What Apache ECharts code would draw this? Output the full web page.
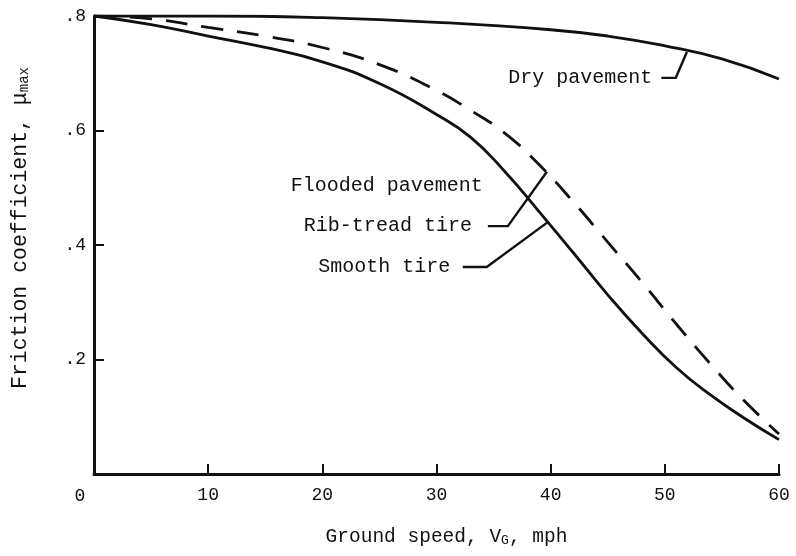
<!DOCTYPE html>
<html>
<head>
<meta charset="utf-8">
<script src="https://cdn.jsdelivr.net/npm/echarts@6/dist/echarts.min.js"></script>
<style>
  html, body { margin: 0; padding: 0; background: #fff; }
  #chart { width: 796px; height: 556px; }
</style>
</head>
<body>
<div id="chart"></div>
<script>
// Ground speed (mph) and maximum friction coefficient for each condition
const drySpeed = [0, 10, 20, 30, 40, 45, 50, 55, 60];
const dryMu    = [0.800, 0.800, 0.797, 0.789, 0.776, 0.765, 0.748, 0.725, 0.690];

const ribSpeed = [0, 5, 10, 15, 20, 25, 30, 33, 36, 39, 42, 45, 48, 51, 54, 57, 60];
const ribMu    = [0.800, 0.795, 0.780, 0.765, 0.745, 0.715, 0.670, 0.635, 0.595, 0.540, 0.475, 0.405, 0.335, 0.262, 0.192, 0.127, 0.070];

const smoothSpeed = [0, 5, 10, 15, 20, 25, 30, 33, 36, 39, 42, 45, 48, 51, 54, 57, 60];
const smoothMu    = [0.800, 0.785, 0.765, 0.745, 0.720, 0.682, 0.628, 0.588, 0.528, 0.458, 0.386, 0.313, 0.246, 0.186, 0.138, 0.097, 0.060];

const xTicks = [0, 10, 20, 30, 40, 50, 60];
const yTicks = [0, 0.2, 0.4, 0.6, 0.8];

const FONT = '"Liberation Mono", "DejaVu Sans Mono", monospace';
const INK = '#111';

const pairs = (xs, ys) => xs.map((x, i) => [x, ys[i]]);

const chart = echarts.init(document.getElementById('chart'), null, { renderer: 'canvas' });

chart.setOption({
  animation: false,
  backgroundColor: '#fff',
  grid: { left: 94, right: 17, top: 16, bottom: 82, containLabel: false },
  xAxis: {
    type: 'value', min: xTicks[0], max: xTicks[xTicks.length - 1], interval: 10,
    axisLine: { lineStyle: { color: INK, width: 3 } },
    axisTick: { inside: true, length: 10, lineStyle: { color: INK, width: 2 } },
    axisLabel: {
      margin: 12, color: INK, fontFamily: FONT, fontSize: 18,
      formatter: v => (v === 0 ? '' : String(v))
    },
    splitLine: { show: false }
  },
  yAxis: {
    type: 'value', min: yTicks[0], max: yTicks[yTicks.length - 1], interval: 0.2,
    axisLine: { show: true, lineStyle: { color: INK, width: 3 } },
    axisTick: { show: true, inside: true, length: 10, lineStyle: { color: INK, width: 2 } },
    axisLabel: {
      margin: 8, color: INK, fontFamily: FONT, fontSize: 18,
      formatter: v => (v === 0 ? '' : '.' + Math.round(v * 10))
    },
    splitLine: { show: false }
  },
  series: [
    {
      name: 'Dry pavement', type: 'line', smooth: 0.5, symbol: 'none',
      data: pairs(drySpeed, dryMu),
      lineStyle: { color: INK, width: 2.8 }
    },
    {
      name: 'Rib-tread tire', type: 'line', smooth: 0.5, symbol: 'none',
      data: pairs(ribSpeed, ribMu),
      lineStyle: { color: INK, width: 2.8, type: [22, 14] }
    },
    {
      name: 'Smooth tire', type: 'line', smooth: 0.5, symbol: 'none',
      data: pairs(smoothSpeed, smoothMu),
      lineStyle: { color: INK, width: 2.8 }
    }
  ]
});

// Leader lines and callout labels, placed in data coordinates
const px = (s, m) => chart.convertToPixel({ gridIndex: 0 }, [s, m]);

const leaders = [
  [[49.7, 0.692], [50.96, 0.692], [51.93, 0.737]],
  [[34.5, 0.433], [36.25, 0.433], [39.67, 0.528]],
  [[32.3, 0.3616], [34.4, 0.3616], [39.75, 0.440]]
];

const callouts = [
  { text: 'Dry pavement', at: [48.9, 0.692] },
  { text: 'Flooded pavement', at: [34.05, 0.503] },
  { text: 'Rib-tread tire', at: [33.1, 0.433] },
  { text: 'Smooth tire', at: [31.2, 0.3616] }
];

const graphics = [];
leaders.forEach(pts => {
  graphics.push({
    type: 'polyline',
    shape: { points: pts.map(p => px(p[0], p[1])) },
    style: { stroke: INK, lineWidth: 2.4, fill: null }
  });
});
callouts.forEach(c => {
  const p = px(c.at[0], c.at[1]);
  graphics.push({
    type: 'text', x: p[0], y: p[1],
    style: { text: c.text, fill: INK, font: '20px ' + FONT, align: 'right', verticalAlign: 'middle' }
  });
});

// "0" at the axis origin sits below-left of the corner
const o = px(0, 0);
graphics.push({
  type: 'text', x: o[0] - 14, y: o[1] + 22,
  style: { text: '0', fill: INK, font: '18px ' + FONT, align: 'center', verticalAlign: 'middle' }
});

// Axis titles with subscripts
const bl = px(0, 0), tr = px(60, 0.8);
graphics.push({
  type: 'text', x: (bl[0] + tr[0]) / 2 + 10, y: bl[1] + 63,
  style: {
    text: 'Ground speed, V{s|G}, mph',
    fill: INK, font: '19.5px ' + FONT, align: 'center', verticalAlign: 'middle',
    rich: { s: { fontFamily: FONT, fontSize: 13, fill: INK, padding: [8, 0, 0, 0] } }
  }
});
graphics.push({
  type: 'text', x: 20, y: 228, rotation: Math.PI / 2,
  style: {
    text: 'Friction coefficient, \u03bc{s|max}',
    fill: INK, font: '21.5px ' + FONT, align: 'center', verticalAlign: 'middle',
    rich: { s: { fontFamily: FONT, fontSize: 14, fill: INK, padding: [9, 0, 0, 0] } }
  }
});

chart.setOption({ graphic: graphics });
</script>
</body>
</html>
